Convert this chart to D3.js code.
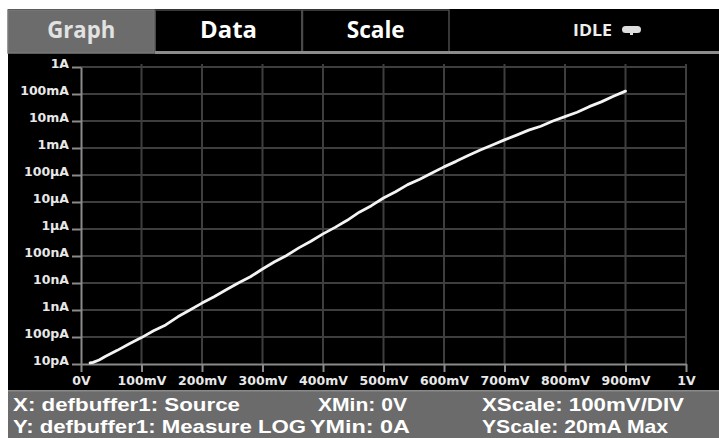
<!DOCTYPE html>
<html>
<head>
<meta charset="utf-8">
<script src="https://cdn.jsdelivr.net/npm/d3@7"></script>
<style>
  body { margin: 0; background: #fff; }
  svg { display: block; }
  .open { font-family: "Open Sans", "DejaVu Sans", sans-serif; font-weight: bold; }
  .dv { font-family: "DejaVu Sans", sans-serif; font-weight: bold; }
  .lib { font-family: "Liberation Sans", Arial, sans-serif; font-weight: bold; }
</style>
</head>
<body>
<div id="chart"></div>
<script>
const w = 719;
const h = 438;

// tabs along the top
const tabs = ["Graph", "Data", "Scale"];
const status = "IDLE";

// sweep: source voltage (V) and measured current (A)
const voltage = [0.015, 0.02, 0.03, 0.04, 0.06, 0.08, 0.10, 0.12, 0.14, 0.16, 0.18, 0.20,
  0.22, 0.24, 0.26, 0.28, 0.30, 0.32, 0.34, 0.36, 0.38, 0.40, 0.42, 0.44, 0.46, 0.48,
  0.50, 0.52, 0.54, 0.56, 0.58, 0.60, 0.62, 0.64, 0.66, 0.68, 0.70, 0.72, 0.74, 0.76,
  0.78, 0.80, 0.82, 0.84, 0.86, 0.88, 0.90];
const current = [1.1e-11, 1.15e-11, 1.4e-11, 1.9e-11, 3.2e-11, 5.6e-11, 9.5e-11, 1.7e-10,
  2.8e-10, 5.6e-10, 1.0e-9, 1.8e-9, 3.1e-9, 5.6e-9, 1.0e-8, 1.7e-8, 3.3e-8, 6.1e-8,
  1.05e-7, 2.0e-7, 3.5e-7, 6.6e-7, 1.15e-6, 2.1e-6, 4.2e-6, 7.3e-6, 1.4e-5, 2.4e-5,
  4.4e-5, 7.0e-5, 1.18e-4, 2.0e-4, 3.2e-4, 5.3e-4, 8.4e-4, 1.3e-3, 2.0e-3, 3.0e-3,
  4.6e-3, 6.4e-3, 1.0e-2, 1.45e-2, 2.1e-2, 3.4e-2, 5.1e-2, 8.2e-2, 1.28e-1];

const xTickValues = [0, 0.1, 0.2, 0.3, 0.4, 0.5, 0.6, 0.7, 0.8, 0.9, 1.0];
const xTickLabels = ["0V", "100mV", "200mV", "300mV", "400mV", "500mV", "600mV", "700mV", "800mV", "900mV", "1V"];
const yTickValues = [1, 1e-1, 1e-2, 1e-3, 1e-4, 1e-5, 1e-6, 1e-7, 1e-8, 1e-9, 1e-10, 1e-11];
const yTickLabels = ["1A", "100mA", "10mA", "1mA", "100µA", "10µA", "1µA", "100nA", "10nA", "1nA", "100pA", "10pA"];

const infoLeft = ["X: defbuffer1: Source", "Y: defbuffer1: Measure LOG"];
const infoMid = ["XMin: 0V", "YMin: 0A"];
const infoRight = ["XScale: 100mV/DIV", "YScale: 20mA Max"];

const plot = { left: 81, right: 686, top: 67, bottom: 364 };

const svg = d3.select("#chart").append("svg")
  .attr("width", w)
  .attr("height", h);

// screen background
svg.append("rect").attr("x", 8).attr("y", 9).attr("width", w - 8).attr("height", h - 9).attr("fill", "#000");

// tab bar
const tabX = d3.scaleBand().domain(tabs).range([8, 449]).paddingInner(0.005);
const tabWidths = [68, 57, 58];
const tabG = svg.append("g");
tabG.selectAll("rect").data(tabs).enter().append("rect")
  .attr("x", d => tabX(d))
  .attr("y", 10)
  .attr("width", tabX.bandwidth())
  .attr("height", 43)
  .attr("fill", (d, i) => i == 0 ? "#6c6c6c" : "#000")
  .attr("stroke", (d, i) => i == 0 ? "#7a7a7a" : "#4a4a4a")
  .attr("stroke-width", 1.5);
tabG.selectAll("text").data(tabs).enter().append("text")
  .attr("class", "open")
  .attr("x", (d, i) => tabX(d) + tabX.bandwidth() / 2 - tabWidths[i] / 2)
  .attr("y", 38)
  .attr("font-size", 23)
  .attr("textLength", (d, i) => tabWidths[i])
  .attr("lengthAdjust", "spacingAndGlyphs")
  .attr("fill", (d, i) => i == 0 ? "#e2e2e2" : "#fff")
  .text(d => d);
// line under tabs
svg.append("rect").attr("x", 155).attr("y", 51).attr("width", w - 155).attr("height", 3).attr("fill", "#8c8c8c");

svg.append("text").attr("class", "open")
  .attr("x", 573).attr("y", 36)
  .attr("font-size", 16).attr("fill", "#eee")
  .attr("textLength", 39).attr("lengthAdjust", "spacingAndGlyphs")
  .text(status);
// idle icon
svg.append("rect").attr("x", 622).attr("y", 26).attr("width", 19).attr("height", 7).attr("rx", 3.5).attr("fill", "#ddd");
svg.append("rect").attr("x", 630).attr("y", 32).attr("width", 3).attr("height", 3).attr("fill", "#ddd");

// scales
const x = d3.scaleLinear().domain([0, 1]).range([plot.left, plot.right]);
const y = d3.scaleLog().domain([1e-11, 1]).range([plot.bottom, plot.top]);

// grid
const grid = svg.append("g").attr("stroke", "#3e3e3e").attr("stroke-width", 2);
grid.selectAll(".gx").data(xTickValues.slice(1)).enter().append("line")
  .attr("x1", d => x(d)).attr("x2", d => x(d))
  .attr("y1", plot.top - 3).attr("y2", plot.bottom);
grid.selectAll(".gy").data(yTickValues.slice(0, -1)).enter().append("line")
  .attr("x1", plot.left).attr("x2", plot.right)
  .attr("y1", d => y(d)).attr("y2", d => y(d));

// axes
const xAxis = d3.axisBottom(x).tickValues(xTickValues).tickFormat((d, i) => xTickLabels[i]).tickSize(8).tickSizeOuter(0).tickPadding(4);
const yAxis = d3.axisLeft(y).tickValues(yTickValues).tickFormat((d, i) => yTickLabels[i]).tickSize(9).tickSizeOuter(0).tickPadding(3);

const gx = svg.append("g")
  .attr("transform", `translate(0, ${plot.bottom})`)
  .call(xAxis);
gx.selectAll("text").attr("class", "dv").attr("font-size", 12.5).attr("fill", "#e8e8e8");

const gy = svg.append("g")
  .attr("transform", `translate(${plot.left}, 0)`)
  .call(yAxis);
gy.selectAll("text").attr("class", "dv").attr("font-size", 12.5).attr("fill", "#e8e8e8").attr("dy", "0.05em");

svg.selectAll(".domain").attr("stroke", "#8a8a8a").attr("stroke-width", 2);
svg.selectAll(".tick line").attr("stroke", "#8a8a8a").attr("stroke-width", 2);

// measured curve
const line = d3.line()
  .x((d, i) => x(voltage[i]))
  .y(d => y(d));
svg.append("path")
  .datum(current)
  .attr("d", line)
  .attr("fill", "none")
  .attr("stroke", "#f4f4f4")
  .attr("stroke-width", 2.8)
  .attr("stroke-linejoin", "round")
  .attr("stroke-linecap", "round");

// info bar at the bottom
svg.append("rect").attr("x", 8).attr("y", 391).attr("width", w - 8).attr("height", h - 391).attr("fill", "#6b6b6b");
svg.append("rect").attr("x", 8).attr("y", 390).attr("width", w - 8).attr("height", 1.5).attr("fill", "#8a8a8a");

const infoX = [[13, 13], [318, 310], [482, 482]];
const infoW = [[227, 293], [89, 100], [202, 186]];
const info = svg.append("g").attr("class", "lib").attr("font-size", 19).attr("fill", "#fff");
[infoLeft, infoMid, infoRight].forEach((col, c) => {
  info.selectAll(".c" + c).data(col).enter().append("text")
    .attr("x", (d, i) => infoX[c][i])
    .attr("y", (d, i) => 411 + i * 22)
    .attr("textLength", (d, i) => infoW[c][i])
    .attr("lengthAdjust", "spacingAndGlyphs")
    .text(d => d);
});
</script>
</body>
</html>
